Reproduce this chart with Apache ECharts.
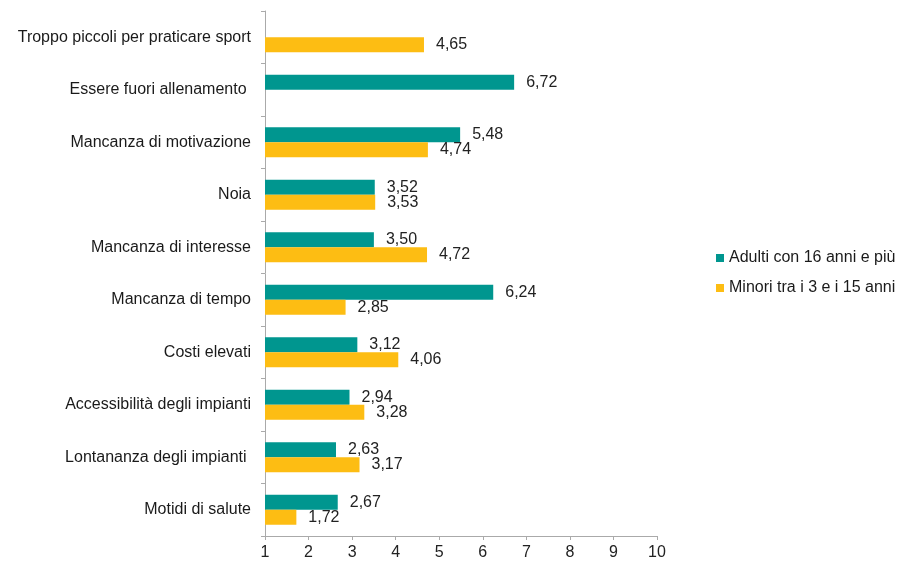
<!DOCTYPE html>
<html><head><meta charset="utf-8">
<script src="https://cdn.jsdelivr.net/npm/echarts@6/dist/echarts.min.js"></script>
<style>html,body{margin:0;padding:0;background:#fff}#c{width:901px;height:561px}</style>
</head><body><div id="c"></div>
<script>
const categories = ["Troppo piccoli per praticare sport","Essere fuori allenamento ","Mancanza di motivazione","Noia","Mancanza di interesse","Mancanza di tempo","Costi elevati","Accessibilità degli impianti","Lontananza degli impianti ","Motidi di salute"];
const adulti = [null,6.72,5.48,3.52,3.50,6.24,3.12,2.94,2.63,2.67];
const minori = [4.65,null,4.74,3.53,4.72,2.85,4.06,3.28,3.17,1.72];
const seriesNames = ["Adulti con 16 anni e più","Minori tra i 3 e i 15 anni"];
const xTicks = {min:1,max:10,interval:1};

const fmt = p => p.value == null ? '' : p.value.toFixed(2).replace('.', ',');
const font = "'Liberation Sans', Arial, sans-serif";
const lbl = {show:true, position:'right', distance:12, formatter:fmt, color:'#222', fontSize:16, fontFamily:font};
const chart = echarts.init(document.getElementById('c'));
chart.setOption({
  animation:false,
  textStyle:{fontFamily:font},
  grid:{left:265, right:244, top:11, bottom:25, containLabel:false},
  legend:{orient:'vertical', left:711, top:245, itemWidth:8, itemHeight:8, itemGap:14, icon:'rect',
    textStyle:{fontSize:16, color:'#1a1a1a', fontFamily:font}, data:seriesNames},
  xAxis:{type:'value', min:xTicks.min, max:xTicks.max, interval:xTicks.interval,
    axisLine:{show:true, lineStyle:{color:'#aaa'}}, axisTick:{show:true, length:4, lineStyle:{color:'#aaa'}},
    splitLine:{show:false}, axisLabel:{color:'#222', fontSize:16, margin:9}},
  yAxis:{type:'category', data:categories, inverse:true,
    axisLine:{show:true, lineStyle:{color:'#aaa'}}, axisTick:{show:true, length:4, lineStyle:{color:'#aaa'}},
    axisLabel:{color:'#1a1a1a', fontSize:16, margin:14}},
  series:[
    {name:seriesNames[0], type:'bar', data:adulti, barWidth:15, barGap:'0%', itemStyle:{color:'#00968f'}, label:lbl},
    {name:seriesNames[1], type:'bar', data:minori, barWidth:15, barGap:'0%', itemStyle:{color:'#fdbd13'}, label:lbl}
  ]
});
</script></body></html>
